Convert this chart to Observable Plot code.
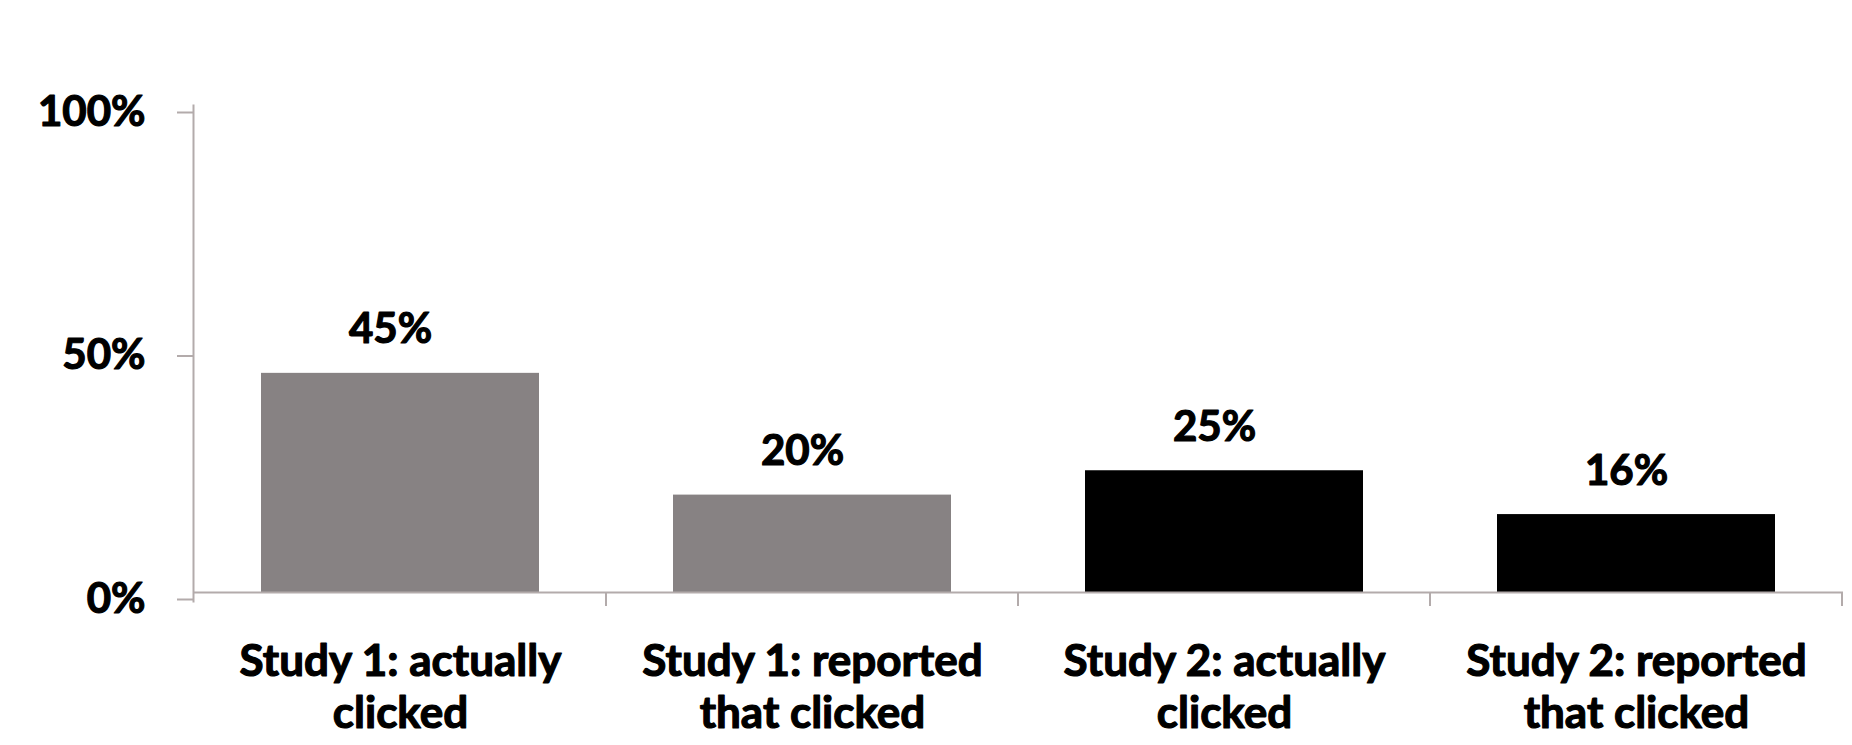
<!DOCTYPE html>
<html>
<head>
<meta charset="utf-8">
<script src="https://cdn.jsdelivr.net/npm/d3@7"></script>
<script src="https://cdn.jsdelivr.net/npm/@observablehq/plot@0.6"></script>
<style>
  html, body { margin: 0; padding: 0; background: #ffffff; }
  #chart svg { display: block; }
  #chart text { paint-order: stroke; stroke: #000; stroke-width: 1.2px; stroke-linejoin: round; }
</style>
</head>
<body>
<div id="chart"></div>
<script>
// ---- data ----
const categories = [
  "Study 1: actually\nclicked",
  "Study 1: reported\nthat clicked",
  "Study 2: actually\nclicked",
  "Study 2: reported\nthat clicked"
];
const values = [0.45, 0.20, 0.25, 0.16];
const study = ["Study 1", "Study 1", "Study 2", "Study 2"];
const yTicks = [0, 0.5, 1];

const data = categories.map((c, i) => ({cat: c, value: values[i], study: study[i]}));

const FONT = "Lato, 'Open Sans', sans-serif";
const W = "bold";
const AXIS = "#b3abab";

const chart = Plot.plot({
  width: 1852,
  height: 745,
  marginLeft: 193,
  marginRight: 9,
  marginTop: 105,
  marginBottom: 153,
  style: {fontFamily: FONT, fontWeight: W, fontSize: "42px", color: "#000", background: "#fff"},
  x: {domain: categories, paddingInner: 0.325, paddingOuter: 0.1625, label: null},
  y: {domain: [0, 1], label: null},
  color: {domain: ["Study 1", "Study 2"], range: ["#878283", "#000000"]},
  marks: [
    Plot.barY(data, {x: "cat", y: "value", fill: "study"}),
    Plot.frame({anchor: "left", stroke: AXIS, strokeWidth: 2, insetBottom: -9}),
    Plot.ruleY([0], {stroke: AXIS, strokeWidth: 2}),
    Plot.axisY({ticks: yTicks, tickFormat: d3.format(".0%"), tickSize: 16, tickPadding: 32,
      stroke: AXIS, strokeWidth: 2, strokeOpacity: 1, dy: 7, fontSize: 42, fontWeight: W, fill: "#000"}),
    Plot.axisX({tickSize: 0, tickPadding: 47, lineHeight: 1.18, fontSize: 44, fontWeight: W, fill: "#000"}),
    Plot.text(data, {x: "cat", y: "value", text: d => d3.format(".0%")(d.value), lineAnchor: "bottom",
      dy: -30, dx: -10, fontSize: 42, fontWeight: W, fill: "#000"})
  ]
});

document.getElementById("chart").appendChild(chart);

// category separators at band boundaries, positioned from Plot's x scale
const xs = chart.scale("x");
const ys = chart.scale("y");
const y0 = ys.apply(0);
const svg = d3.select(chart);
categories.forEach(c => {
  const right = xs.apply(c) + xs.bandwidth + (xs.step - xs.bandwidth) / 2;
  svg.append("line")
    .attr("x1", right).attr("x2", right)
    .attr("y1", y0).attr("y2", y0 + 14)
    .attr("stroke", AXIS).attr("stroke-width", 2);
});
</script>
</body>
</html>
